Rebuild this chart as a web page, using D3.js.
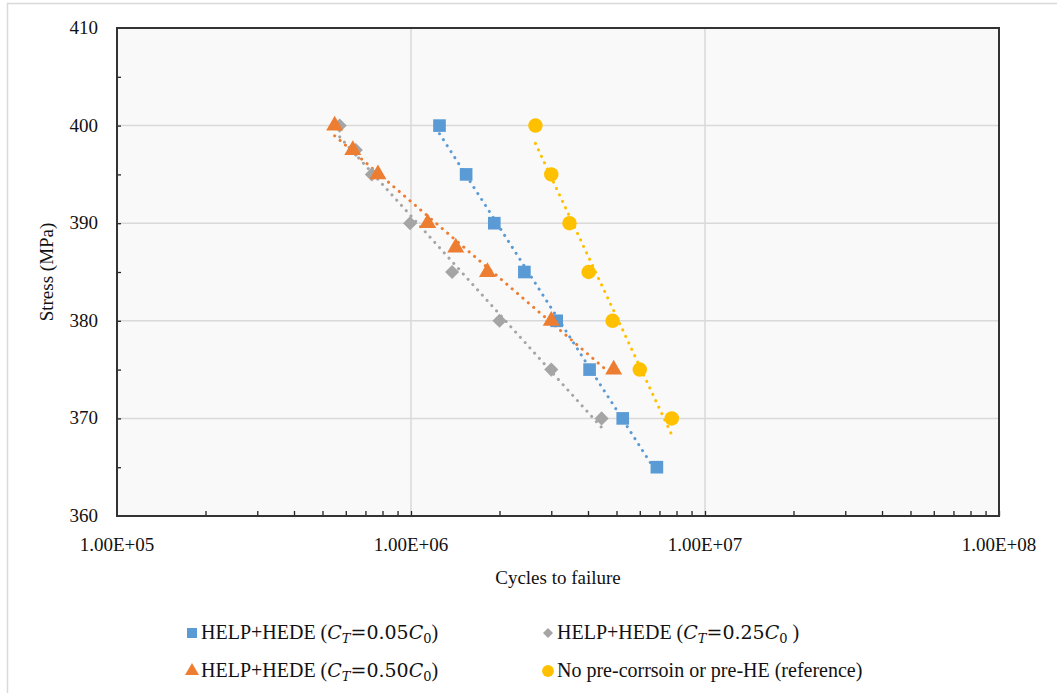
<!DOCTYPE html>
<html lang="en">
<head>
  <meta charset="UTF-8">
  <title>S-N curves</title>
  <script src="https://d3js.org/d3.v7.min.js"></script>
  <style>
    body { margin: 0; background: #fff; }
    text { font-family: "Liberation Serif", "Times New Roman", serif; fill: #111; }
  </style>
</head>
<body>

<svg id="chart" width="1057" height="693"></svg>

<script>
  // data
  var stressA = [400, 395, 390, 385, 380, 375, 370, 365];
  var cyclesA = [1.25e6, 1.54e6, 1.92e6, 2.43e6, 3.13e6, 4.05e6, 5.25e6, 6.86e6];

  var stressB = [400, 397.5, 395, 390, 385, 380, 375, 370];
  var cyclesB = [5.72e5, 6.49e5, 7.36e5, 9.93e5, 1.38e6, 2.0e6, 3.0e6, 4.45e6];

  var stressC = [400, 397.5, 395, 390, 387.5, 385, 380, 375];
  var cyclesC = [5.5e5, 6.34e5, 7.72e5, 1.14e6, 1.42e6, 1.82e6, 3.0e6, 4.89e6];

  var stressD = [400, 395, 390, 385, 380, 375, 370];
  var cyclesD = [2.65e6, 3.0e6, 3.46e6, 4.02e6, 4.85e6, 6.0e6, 7.71e6];

  var xTicks = [1e5, 1e6, 1e7, 1e8];
  var yTicks = [360, 370, 380, 390, 400, 410];

  var series = [
    { name: 'A', x: cyclesA, y: stressA, color: '#5B9BD5', shape: 'square', ct: '0.05' },
    { name: 'B', x: cyclesB, y: stressB, color: '#A5A5A5', shape: 'diamond', ct: '0.25' },
    { name: 'C', x: cyclesC, y: stressC, color: '#ED7D31', shape: 'triangle', ct: '0.50' },
    { name: 'D', x: cyclesD, y: stressD, color: '#FFC000', shape: 'circle' }
  ];

  var svg = d3.select('#chart');
  var pLeft = 117, pRight = 999, pTop = 28, pBottom = 516;

  // outer frame of the figure
  svg.append('rect')
    .attr('x', 7.5).attr('y', 3.5).attr('width', 1070).attr('height', 720)
    .attr('fill', '#fff').attr('stroke', '#d9d9d9').attr('stroke-width', 1.5);

  var x = d3.scaleLog().domain([1e5, 1e8]).range([pLeft, pRight]);
  var y = d3.scaleLinear().domain([360, 410]).range([pBottom, pTop]);

  svg.append('rect')
    .attr('x', pLeft).attr('y', pTop)
    .attr('width', pRight - pLeft).attr('height', pBottom - pTop)
    .attr('fill', '#f9f9f9');

  // gridlines
  svg.append('g').selectAll('line')
    .data([1e6, 1e7]).enter().append('line')
    .attr('x1', d => x(d)).attr('x2', d => x(d))
    .attr('y1', pTop).attr('y2', pBottom)
    .attr('stroke', '#d9d9d9').attr('stroke-width', 1.5);
  svg.append('g').selectAll('line')
    .data([370, 380, 390, 400]).enter().append('line')
    .attr('x1', pLeft).attr('x2', pRight)
    .attr('y1', d => y(d)).attr('y2', d => y(d))
    .attr('stroke', '#d9d9d9').attr('stroke-width', 1.5);

  // axes
  var minorX = [];
  [1e5, 1e6, 1e7].forEach(function (dec) {
    for (var k = 2; k <= 10; k++) minorX.push(dec * k);
  });
  var xAxis = svg.append('g').attr('transform', 'translate(0,' + pBottom + ')')
    .call(d3.axisTop(x).tickValues(minorX).tickSize(5).tickFormat(''));
  xAxis.select('.domain').remove();
  xAxis.selectAll('line').attr('stroke', '#222').attr('stroke-width', 1.3);

  var yAxis = svg.append('g').attr('transform', 'translate(' + pLeft + ',0)')
    .call(d3.axisRight(y).tickValues(d3.range(365, 410, 5)).tickSize(4).tickFormat(''));
  yAxis.select('.domain').remove();
  yAxis.selectAll('line').attr('stroke', '#222').attr('stroke-width', 1.3);

  svg.append('rect')
    .attr('x', pLeft).attr('y', pTop)
    .attr('width', pRight - pLeft).attr('height', pBottom - pTop)
    .attr('fill', 'none').attr('stroke', '#333').attr('stroke-width', 2);

  svg.append('g').selectAll('text')
    .data(xTicks).enter().append('text')
    .attr('x', d => x(d)).attr('y', 551)
    .attr('text-anchor', 'middle').attr('font-size', 19)
    .text(d => d3.format('.2e')(d).toUpperCase().replace('E+', 'E+0'));

  svg.append('g').selectAll('text')
    .data(yTicks).enter().append('text')
    .attr('x', 98).attr('y', d => y(d) + 6)
    .attr('text-anchor', 'end').attr('font-size', 19)
    .text(d => d);

  svg.append('text')
    .attr('x', (pLeft + pRight) / 2).attr('y', 584)
    .attr('text-anchor', 'middle').attr('font-size', 19)
    .text('Cycles to failure');

  svg.append('text')
    .attr('transform', 'translate(53,' + ((pTop + pBottom) / 2) + ') rotate(-90)')
    .attr('text-anchor', 'middle').attr('font-size', 19)
    .text('Stress (MPa)');

  // Excel-style logarithmic trendline: stress = a*ln(N) + b
  function fit(xs, ys) {
    var lx = xs.map(v => Math.log(v));
    var mx = d3.mean(lx), my = d3.mean(ys);
    var sxy = d3.sum(lx, (v, i) => (v - mx) * (ys[i] - my));
    var sxx = d3.sum(lx, v => (v - mx) * (v - mx));
    var a = sxy / sxx, b = my - a * mx;
    var x0 = d3.min(xs), x1 = d3.max(xs);
    return [[x0, a * Math.log(x0) + b], [x1, a * Math.log(x1) + b]];
  }

  var line = d3.line().x(d => x(d[0])).y(d => y(d[1]));

  // diamonds are squares turned by 45 degrees
  function symbolFor(shape, size) {
    var t = { square: d3.symbolSquare, diamond: d3.symbolSquare, triangle: d3.symbolTriangle, circle: d3.symbolCircle }[shape];
    return d3.symbol().type(t).size(size)();
  }
  function place(shape, px, py) {
    return 'translate(' + px + ',' + py + ')' + (shape === 'diamond' ? ' rotate(45)' : '');
  }
  var sizes = { square: 160, diamond: 100, triangle: 125, circle: 165 };

  series.forEach(function (s) {
    svg.append('path')
      .attr('d', line(fit(s.x, s.y)))
      .attr('fill', 'none').attr('stroke', s.color)
      .attr('stroke-width', 3).attr('stroke-linecap', 'round')
      .attr('stroke-dasharray', '0.1 7');
  });

  series.forEach(function (s) {
    svg.append('g').selectAll('path')
      .data(s.x.map((v, i) => [v, s.y[i]])).enter().append('path')
      .attr('transform', d => place(s.shape, x(d[0]), y(d[1])))
      .attr('d', symbolFor(s.shape, sizes[s.shape]))
      .attr('fill', s.color);
  });

  // legend
  var legendPos = { A: [192, 633], B: [548, 633], C: [192, 671], D: [548, 671] };
  var small = { square: 100, diamond: 50, triangle: 85, circle: 110 };
  var mathFont = '"DejaVu Serif", serif';
  series.forEach(function (s) {
    var p = legendPos[s.name];
    svg.append('path')
      .attr('transform', place(s.shape, p[0], p[1]))
      .attr('d', symbolFor(s.shape, small[s.shape]))
      .attr('fill', s.color);
    var t = svg.append('text').attr('x', p[0] + 9).attr('y', p[1] + 6).attr('font-size', 20);
    if (s.ct) {
      t.append('tspan').text('HELP+HEDE (');
      t.append('tspan').attr('font-family', mathFont).attr('font-style', 'italic').attr('font-size', 19).text('C');
      t.append('tspan').attr('font-family', mathFont).attr('font-style', 'italic').attr('font-size', 13).attr('dy', 4).text('T');
      t.append('tspan').attr('dy', -4).attr('font-family', mathFont).attr('font-size', 19).text('=' + s.ct);
      t.append('tspan').attr('font-family', mathFont).attr('font-style', 'italic').attr('font-size', 19).text('C');
      t.append('tspan').attr('font-family', mathFont).attr('font-size', 13).attr('dy', 4).text('0');
      t.append('tspan').attr('dy', -4).text(s.name === 'B' ? ' )' : ')');
    } else {
      t.text('No pre-corrsoin or pre-HE (reference)');
    }
  });
</script>

</body>
</html>
